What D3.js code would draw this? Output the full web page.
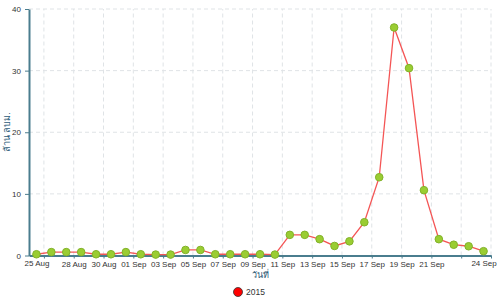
<!DOCTYPE html>
<html>
<head>
<meta charset="utf-8">
<script src="https://cdn.jsdelivr.net/npm/d3@7"></script>
<style>
  body { margin: 0; background: #fff; }
  text { font-family: "Liberation Sans", Arial, sans-serif; }
</style>
</head>
<body>
<div id="chart"></div>
<script>
// daily values, 25 Aug - 24 Sep 2015
const startDay = new Date(2015, 7, 25)
const values = [0.2, 0.55, 0.55, 0.55, 0.2, 0.2, 0.55, 0.2, 0.15, 0.15,
  0.9, 0.9, 0.2, 0.2, 0.2, 0.2, 0.15, 3.35, 3.35, 2.65,
  1.55, 2.3, 5.4, 12.7, 37.0, 30.4, 10.6, 2.65, 1.75, 1.5,
  0.7]
const yTicks = [0, 10, 20, 30, 40]
const seriesName = "2015"
const xTitle = "วันที่"
const yTitle = "ล้าน ลบม."

const width = 500
const height = 300
const margin = {top: 9, right: 9, bottom: 44.5, left: 29}

// points sit at midday of each day
const data = values.map((v, i) => ({date: d3.timeHour.offset(d3.timeDay.offset(startDay, i), 12), value: v}))

const svg = d3.select("#chart").append("svg")
  .attr("width", width)
  .attr("height", height)

const x = d3.scaleTime()
  .domain([startDay, d3.timeDay.offset(startDay, values.length)])
  .range([margin.left, width - margin.right])

const y = d3.scaleLinear()
  .domain([0, 40])
  .range([height - margin.bottom, margin.top])

// ticks every second day starting 26 Aug
const xTickVals = d3.timeDay.range(d3.timeDay.offset(startDay, 1), d3.timeDay.offset(startDay, values.length + 1))
  .filter((d, i) => i % 2 === 0)
const fmt = d3.timeFormat("%d %b")

// grid
svg.append("g")
  .selectAll("line")
  .data(xTickVals)
  .join("line")
    .attr("x1", d => x(d)).attr("x2", d => x(d))
    .attr("y1", y(0)).attr("y2", y(40))
    .attr("stroke", "#dfe3e6")
    .attr("stroke-dasharray", "4,3")
svg.append("g")
  .selectAll("line")
  .data(yTicks.slice(1))
  .join("line")
    .attr("x1", x.range()[0]).attr("x2", x.range()[1])
    .attr("y1", d => y(d)).attr("y2", d => y(d))
    .attr("stroke", "#dfe3e6")
    .attr("stroke-dasharray", "4,3")

const axisColor = "#4a7d8e"

// x axis
const lastIdx = xTickVals.length - 1
const gx = svg.append("g")
  .attr("transform", `translate(0,${y(0)})`)
  .call(d3.axisBottom(x).tickValues(xTickVals).tickSize(3).tickSizeOuter(0)
    .tickFormat((d, i) => (i === 0 || i >= lastIdx - 1) ? "" : fmt(d)))
gx.append("g")
  .call(d3.axisBottom(x).tickValues([data[0].date, data[data.length - 1].date])
    .tickSize(0).tickPadding(5).tickFormat(fmt))
  .call(g => g.select(".domain").remove())

// y axis
const gy = svg.append("g")
  .attr("transform", `translate(${margin.left},0)`)
  .call(d3.axisLeft(y).tickValues(yTicks).tickSize(4).tickSizeOuter(0))

svg.selectAll(".domain").attr("stroke", axisColor).attr("stroke-width", 2)
svg.selectAll(".tick line").attr("stroke", axisColor)
svg.selectAll(".tick text").attr("fill", "#333").attr("font-size", 8)
gy.selectAll(".tick text").attr("dx", "-1")

// line
const line = d3.line().x(d => x(d.date)).y(d => y(d.value))
svg.append("path")
  .datum(data)
  .attr("fill", "none")
  .attr("stroke", "#f45555")
  .attr("stroke-width", 1.3)
  .attr("d", line)

svg.append("g")
  .selectAll("circle")
  .data(data)
  .join("circle")
    .attr("cx", d => x(d.date))
    .attr("cy", d => y(d.value))
    .attr("r", 3.8)
    .attr("fill", "#9acd32")
    .attr("stroke", "#82b22a")
    .attr("stroke-width", 1)

// titles
svg.append("text")
  .attr("x", (x.range()[0] + x.range()[1]) / 2)
  .attr("y", 278)
  .attr("text-anchor", "middle")
  .attr("font-size", 9)
  .attr("fill", "#2d5b78")
  .text(xTitle)

svg.append("text")
  .attr("transform", `translate(10,${(y(0) + y(40)) / 2}) rotate(-90)`)
  .attr("text-anchor", "middle")
  .attr("font-size", 9)
  .attr("fill", "#2d5b78")
  .text(yTitle)

// legend
const leg = svg.append("g").attr("transform", "translate(238,292)")
leg.append("circle").attr("r", 4.5).attr("fill", "#ff0000").attr("stroke", "#333").attr("stroke-width", 0.8)
leg.append("text").attr("x", 8).attr("dy", "0.35em").attr("font-size", 8.5).attr("fill", "#333").text(seriesName)
</script>
</body>
</html>
